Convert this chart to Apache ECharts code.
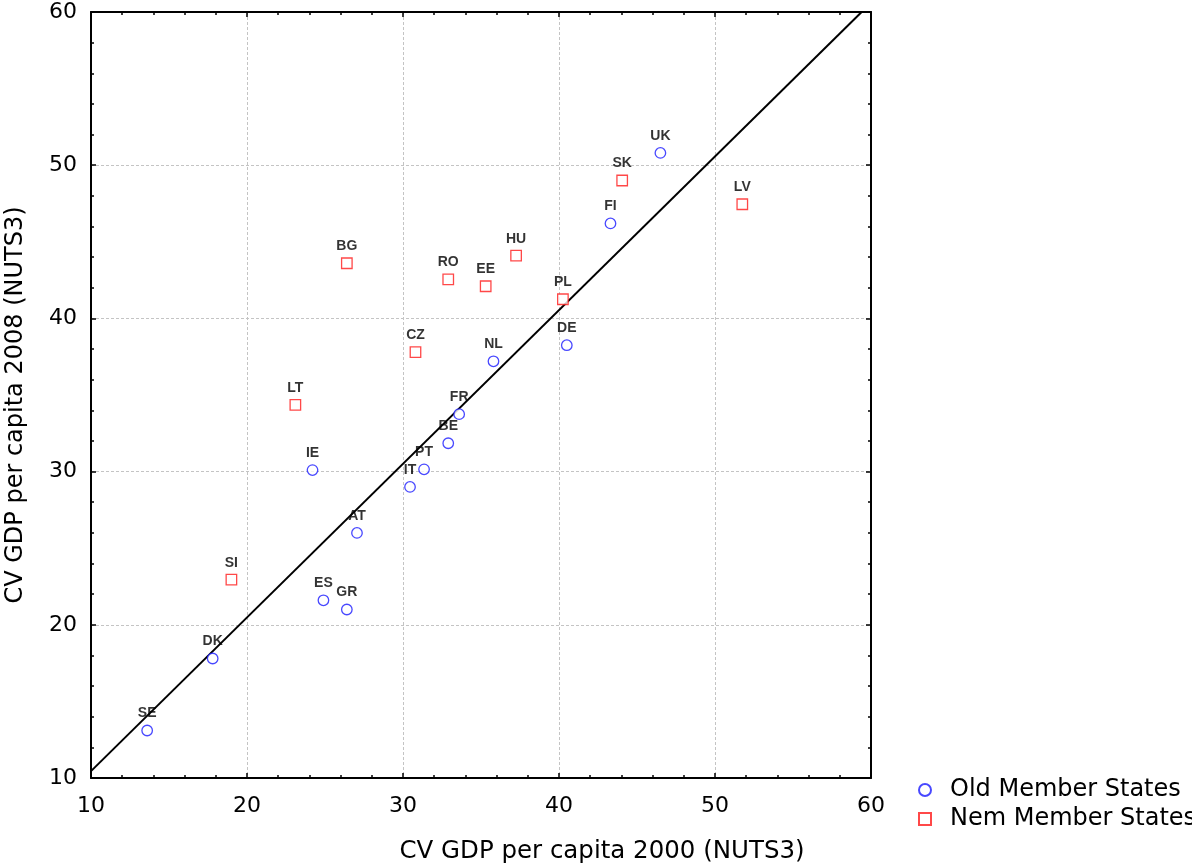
<!DOCTYPE html>
<html>
<head>
<meta charset="utf-8">
<script src="https://cdn.jsdelivr.net/npm/echarts@6/dist/echarts.min.js"></script>
<style>html,body{margin:0;padding:0;background:#fff}#c{width:1192px;height:868px}</style>
</head>
<body>
<div id="c"></div>
<script>
var oldNames = ['SE','DK','ES','GR','AT','IE','IT','PT','BE','FR','NL','DE','FI','UK'];
var oldX = [13.6, 17.8, 24.9, 26.4, 27.05, 24.2, 30.45, 31.35, 32.9, 33.6, 35.8, 40.5, 43.3, 46.5];
var oldY = [13.1, 17.8, 21.6, 21.0, 26.0, 30.1, 29.0, 30.15, 31.85, 33.75, 37.2, 38.25, 46.2, 50.8];
var newNames = ['SI','LT','CZ','BG','RO','EE','HU','PL','SK','LV'];
var newX = [19.0, 23.1, 30.8, 26.4, 32.9, 35.3, 37.25, 40.25, 44.05, 51.75];
var newY = [22.95, 34.35, 37.8, 43.6, 42.55, 42.1, 44.1, 41.25, 49.0, 47.45];
var lineX = [10, 59.4];
var lineY = [10.45, 60];
var seriesNames = ['Old Member States', 'Nem Member States'];
var xTitle = 'CV GDP per capita 2000 (NUTS3)';
var yTitle = 'CV GDP per capita 2008 (NUTS3)';

function pts(xs, ys, names) {
  return xs.map(function (x, i) { return names ? {value: [x, ys[i]], name: names[i]} : [x, ys[i]]; });
}
var FONT = '"Liberation Sans", Arial, sans-serif';
var WIDE = '"DejaVu Sans", sans-serif';
var chart = echarts.init(document.getElementById('c'), null, {renderer: 'canvas'});
function mainAxis(pos) {
  var shown = pos === 'bottom' || pos === 'left';
  return {
    type: 'value', position: pos, min: 10, max: 60, interval: 10,
    axisLine: {show: true, onZero: false, lineStyle: {color: '#000', width: 2}},
    axisTick: {show: true, inside: true, length: 5, lineStyle: {color: '#000', width: 1.5}},
    minorTick: {show: true, splitNumber: 5, length: 3, lineStyle: {color: '#000', width: 1.5}},
    axisLabel: {show: shown, color: '#000', fontSize: 22, fontFamily: WIDE,
      margin: pos === 'bottom' ? 17 : 14,
      formatter: function (v) { return String(v); }},
    splitLine: {show: shown, lineStyle: {color: '#c4c4c4', type: [3, 2], width: 1}}
  };
}

var labelStyle = {show: true, position: 'top', distance: 4, color: '#000', fontSize: 14, fontWeight: 'bold', fontFamily: FONT,
  formatter: function (p) { return p.name; }};

chart.setOption({
  animation: false,
  backgroundColor: '#fff',
  grid: {left: 91, right: 321, top: 12, bottom: 90, containLabel: false},
  graphic: [
    {type: 'text', x: 602, y: 852, scaleX: 1.02,
      style: {text: xTitle, fontSize: 24, fontFamily: WIDE, fill: '#000', align: 'center', verticalAlign: 'middle'}},
    {type: 'text', x: 16, y: 405, rotation: Math.PI / 2,
      style: {text: yTitle, fontSize: 24, fontFamily: WIDE, fill: '#000', align: 'center', verticalAlign: 'middle'}}
  ],
  legend: {orient: 'vertical', left: 913, top: 773, itemWidth: 12, itemHeight: 12, itemGap: 5,
    data: [{name: seriesNames[0], icon: 'circle'}, {name: seriesNames[1], icon: 'rect'}],
    textStyle: {fontSize: 24, color: '#000', fontFamily: WIDE, padding: [0, 0, 0, 14]}},
  xAxis: [mainAxis('bottom'), mainAxis('top')],
  yAxis: [mainAxis('left'), mainAxis('right')],
  series: [
    {type: 'line', name: 'fit', data: pts(lineX, lineY), symbol: 'none', showSymbol: false,
      lineStyle: {color: '#000', width: 2}, silent: true, z: 2},
    {type: 'scatter', name: seriesNames[0], data: pts(oldX, oldY, oldNames), symbol: 'circle', symbolSize: 10.5,
      itemStyle: {color: '#fff', borderColor: '#1a1aff', borderWidth: 1.3}, label: labelStyle, z: 3},
    {type: 'scatter', name: seriesNames[1], data: pts(newX, newY, newNames), symbol: 'rect', symbolSize: 10.5,
      itemStyle: {color: '#fff', borderColor: '#ff1a1a', borderWidth: 1.3}, label: labelStyle, z: 3}
  ]
});
</script>
</body>
</html>
